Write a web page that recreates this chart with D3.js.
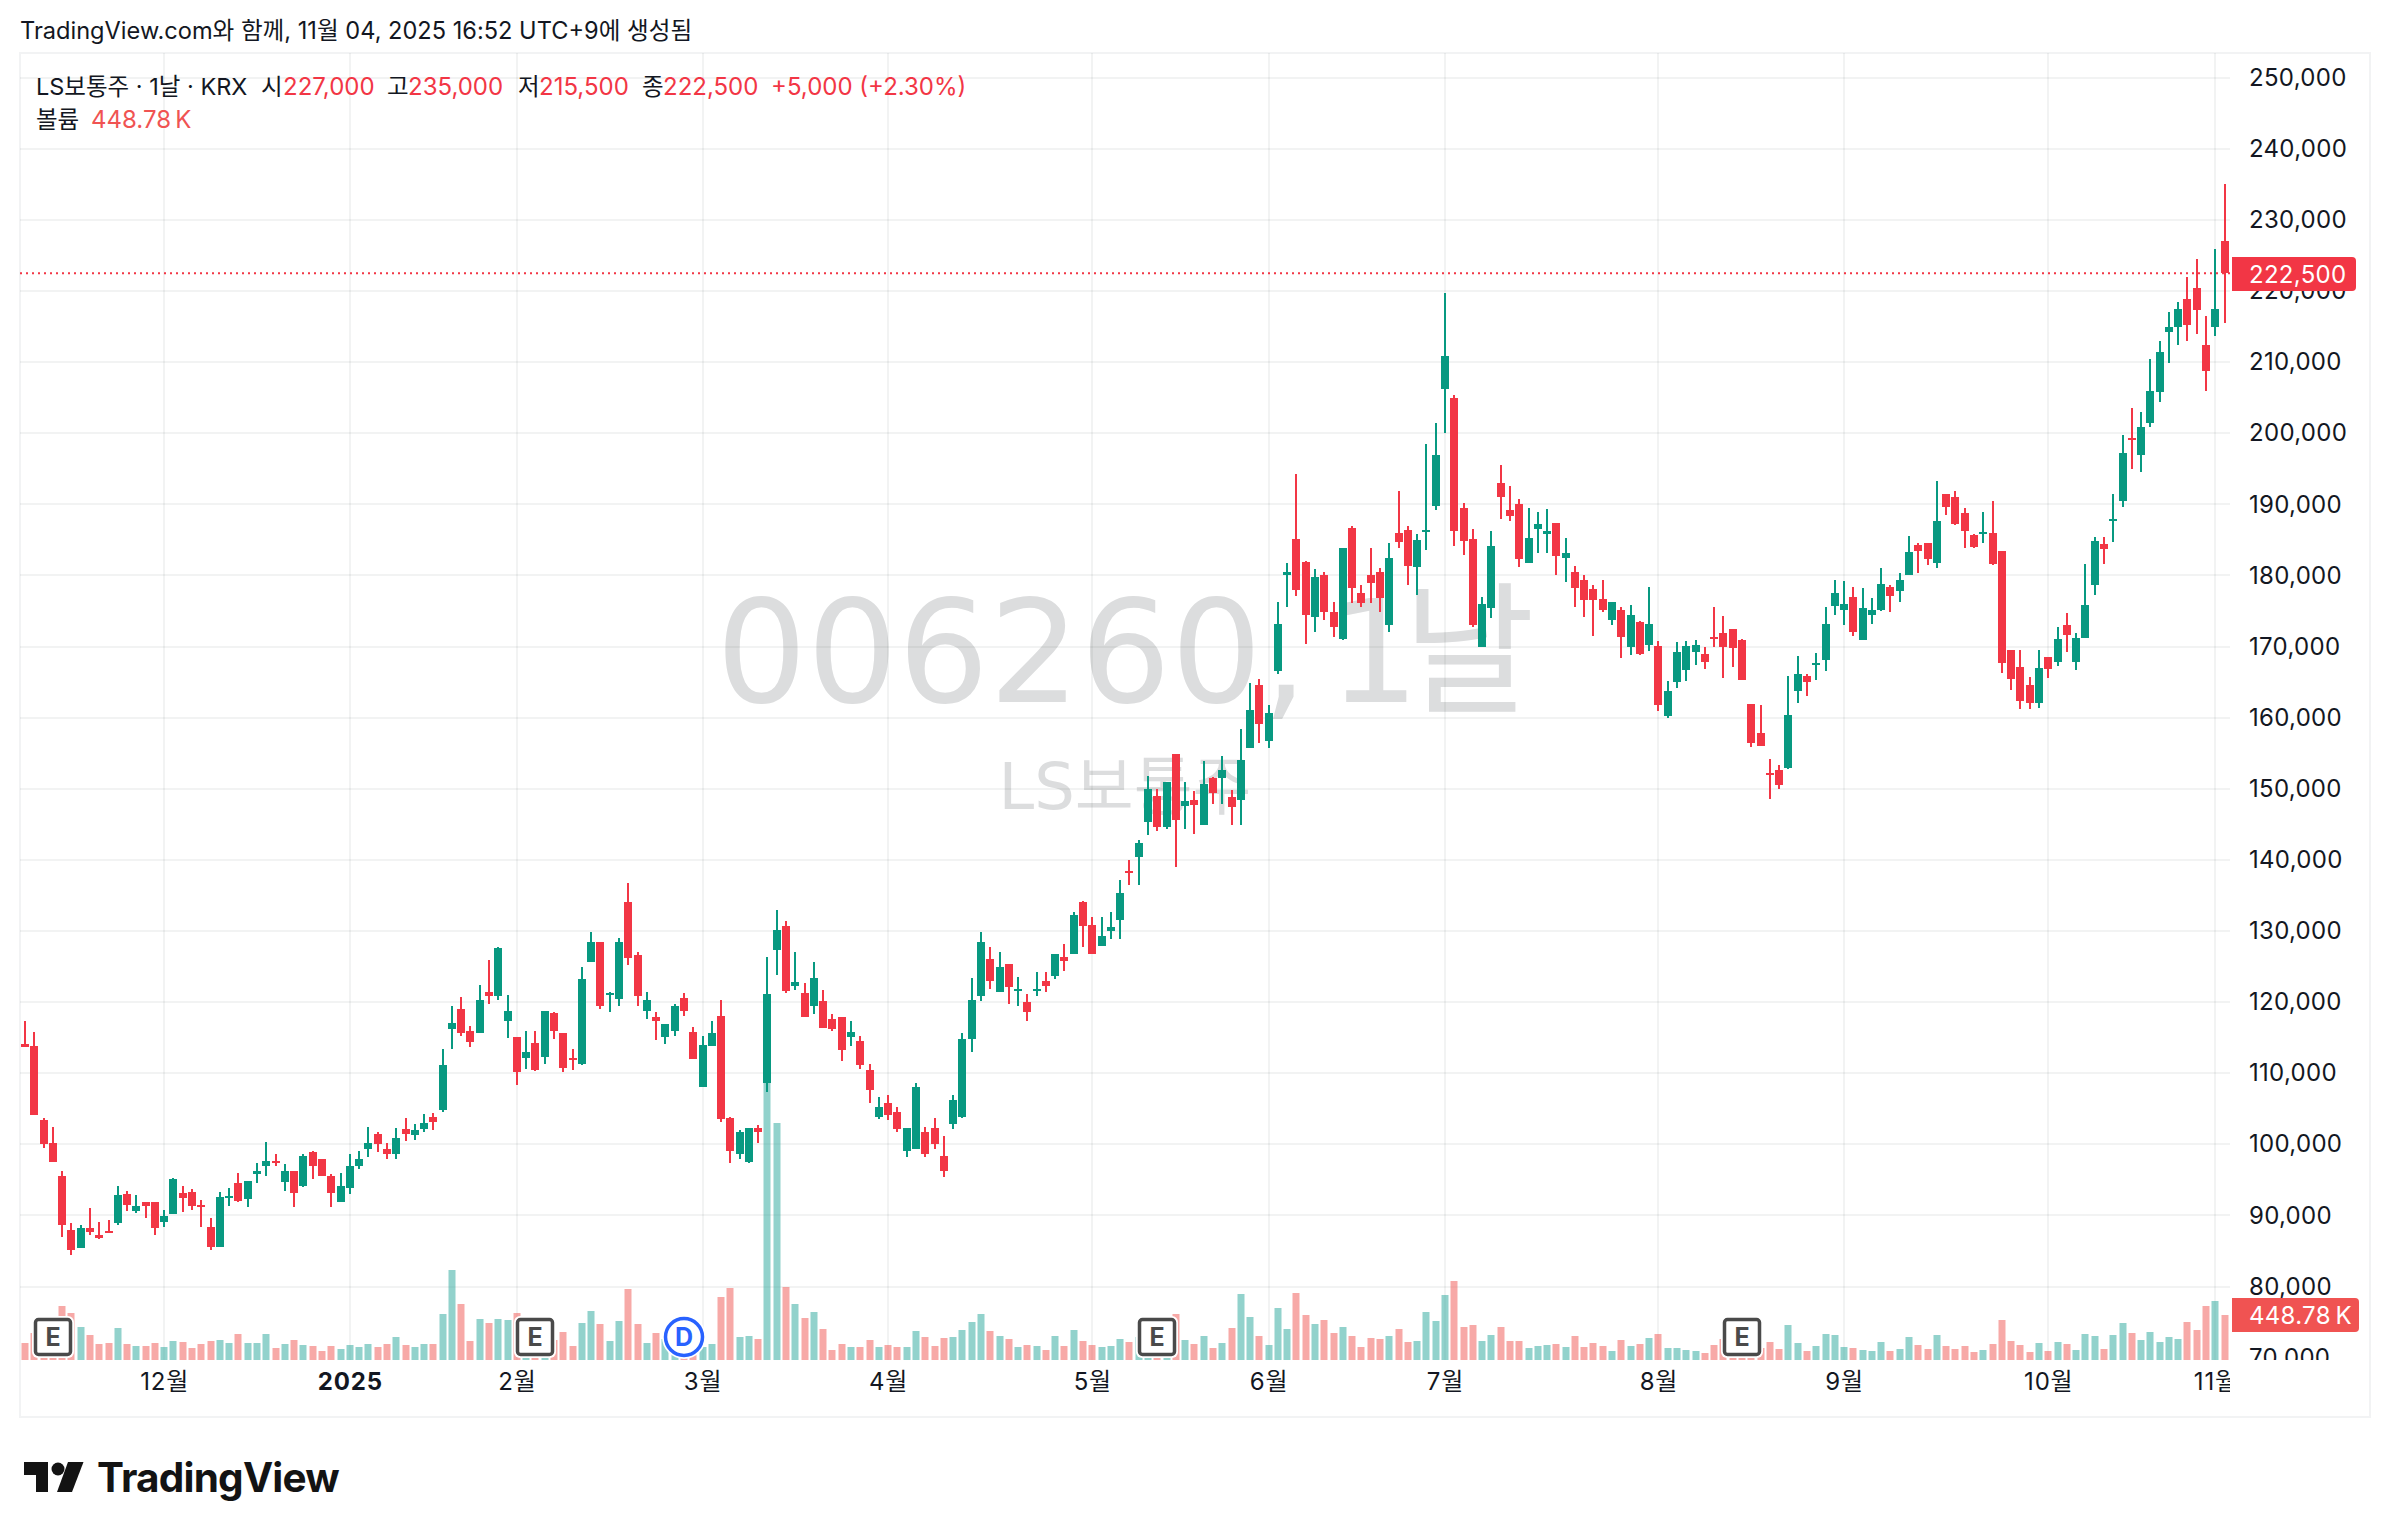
<!DOCTYPE html>
<html lang="ko">
<head>
<meta charset="utf-8">
<title>LS보통주 일봉</title>
<script src="https://cdn.jsdelivr.net/npm/d3@7"></script>
<style>
  html, body { margin: 0; padding: 0; background: #fff; }
  svg { display: block; font-family: Inter, "Noto Sans CJK KR", sans-serif; }
</style>
</head>
<body>
<svg id="chart" width="2390" height="1538"></svg>
<script>
// Daily OHLC (KRW) and volume (thousand shares) for LS, Nov 2024 - Nov 2025.
const opens = [114100,113800,103400,100200,95600,88000,85400,88200,87300,87800,
88900,93000,90600,91900,91900,89100,90200,93100,93300,91400,
88300,85500,92500,94500,92300,95800,96900,97700,94700,96300,
94100,98900,97900,95500,91900,93800,96900,99300,101400,99300,
98600,102100,101300,102100,103800,104800,116200,119000,116000,115600,
121400,120800,117300,115100,112100,114200,112300,118400,115600,112100,
111300,125600,128500,121000,120400,134100,126600,118700,117900,115100,
115900,120600,115800,108000,113800,118000,103700,98700,97500,102300,
108600,127300,130700,122200,121300,119400,120100,117600,117900,115100,
114500,110400,103800,105800,104600,99100,99300,101700,102300,98300,
102800,103800,114800,120900,126100,121400,125400,121500,120000,121600,
123000,123700,126400,126800,134100,130900,127900,130000,131600,138500,
140400,145300,149000,144600,154900,147600,148400,144900,151500,151500,
148800,148400,155800,164600,156700,166500,180000,185200,181900,174100,
180100,174900,171100,186700,177600,180000,180500,173100,186000,186400,
181200,186200,189800,206300,205000,189500,185200,169900,175400,193000,
189200,190100,181800,186600,185900,187400,182400,180500,179300,178100,
176700,173800,175200,169900,173500,170200,170100,160200,165000,166700,
169200,169000,171400,171900,172500,170900,161900,157800,152200,152600,
152900,163800,165900,167400,168100,175700,175200,177000,170900,174500,
175200,178400,177800,180000,184300,184600,181800,191500,191100,188800,
185700,185900,186000,183400,169500,167100,164600,162000,168500,167900,
173000,167900,171200,178600,184500,187600,190500,199300,197000,201400,
205800,214300,214900,218900,220500,212400,214900,227000];

const highs = [117400,115800,103700,102400,96300,88900,88700,91000,89100,89400,
94200,93500,92800,91900,91900,90700,95200,94200,93700,92100,
89700,93300,93800,95900,94900,97300,100300,98600,97200,96300,
98700,99000,98000,95800,95900,98700,99000,102500,101800,100200,
102300,103700,102800,104200,104400,113400,119400,120700,116700,122400,
125900,127800,121000,115100,115900,115900,118700,118600,115600,113400,
124900,129800,128500,121400,129000,136700,127100,121400,118600,116900,
119700,121300,116500,115200,117400,120300,103800,102000,102300,102700,
126400,132900,131400,127100,122700,125700,121700,118300,117900,117400,
115300,111300,106600,106900,105300,102300,108600,102500,103700,101100,
107000,115600,123400,129900,127800,127100,125400,123600,121200,124200,
124200,126800,128200,132700,134200,132000,132000,132700,137200,140000,
142800,151800,150000,150900,154900,150900,149700,153900,151600,154600,
149800,158400,164900,165400,161800,176300,181800,194300,182100,180900,
180500,176300,183800,186900,178700,183900,181100,184600,191900,186900,
185900,198500,201500,219700,205400,190200,186600,177000,186200,195600,
192600,190800,189500,189000,189400,187400,185300,181400,180100,178600,
179300,176300,175600,175900,173600,178400,170800,165200,170700,170800,
170900,170000,175600,174300,172500,171100,161900,161800,154200,153300,
165900,168700,166100,169100,175600,179400,179200,178400,178300,176900,
181100,178700,180400,185600,184600,184600,193300,191500,191900,189500,
185900,189000,190500,183400,169500,169500,165700,169500,168500,172700,
174700,171900,181600,185400,185400,191400,199800,203500,203000,210500,
213000,217000,218500,222000,224500,216500,225900,235000];

const lows = [113700,104100,99500,97500,87000,84500,85400,87200,86700,87600,
88700,90600,90300,89700,87300,88300,90200,90500,90700,88300,
85200,85500,91300,91900,91200,94500,95500,96900,93500,91200,
94000,95100,95600,91200,91900,93000,96500,98200,98900,98000,
98000,100400,100600,101700,102000,104600,113400,115300,113700,115600,
119800,120300,114900,108400,110600,110300,111300,114800,110200,110400,
111100,125600,119000,118600,119500,125200,119500,117600,114600,114100,
115300,118100,112000,108000,113800,103200,97300,98000,97300,100200,
107400,123800,121300,121700,117900,118300,116300,115900,111700,113800,
110600,105800,103500,103400,101800,98200,99300,98200,99400,95400,
102100,103700,113000,120200,121900,121400,119800,119500,117400,120900,
121400,123300,124400,126800,127800,126800,127900,128900,128900,136400,
136400,143500,144100,144400,139000,144400,143700,144900,147900,147900,
144900,144900,155800,156500,155800,166100,175600,177100,170400,172100,
173800,171400,170900,176100,175500,176200,174900,172100,183800,178600,
177300,183600,189200,200000,184100,182900,172700,169900,174000,188000,
187700,181200,181700,183200,183100,180100,179100,175600,174200,171500,
174900,173100,168400,168800,168800,169400,160900,160000,164200,165200,
167400,166900,170000,165600,167100,165300,155900,156000,148500,150000,
152800,162100,163100,165300,166600,174500,173000,171500,170900,173200,
175000,174900,176300,180000,180400,181500,181100,188500,187100,183900,
183900,184600,181500,166300,163900,161200,161200,161300,165600,167300,
169200,166700,171200,177300,181600,184700,189700,195000,194600,200900,
204400,209900,212400,213000,214000,206000,213700,215500];

const closes = [113700,104100,100000,97500,88600,85100,88200,87600,86800,87600,
92800,91400,91300,91300,88200,89900,95100,92400,91300,91300,
85500,92600,92700,92000,94900,96300,97700,97400,96300,93100,
98400,97000,95600,93100,94200,97000,98000,100200,100000,98600,
100900,101400,102000,103000,103100,111100,117000,115600,114400,120300,
120800,127600,118700,110100,113000,110400,118700,116000,110700,111900,
123200,128500,119400,121300,128400,126200,120800,120300,117300,116900,
119400,118700,112000,113900,115600,103500,99100,101800,102300,101700,
121100,130100,121500,122800,117900,123400,116300,116200,113200,115800,
111100,107700,105200,104100,102100,102300,108000,98700,100000,96300,
106300,114800,120300,128500,122900,125000,122100,121800,118600,121900,
122200,126700,125800,132300,130700,126800,129300,130600,135400,138200,
142400,150000,144600,150900,145600,148300,147700,150700,149400,152600,
147400,154000,161100,159100,160700,173200,180500,177900,174400,179800,
174900,172700,183800,178300,176100,179000,176900,182400,184700,181400,
185000,186400,197000,210900,186300,184900,173100,176000,184200,191000,
188300,182300,185300,187300,186200,182800,183200,178300,176500,176500,
175200,176300,171300,174500,169000,173200,161800,163800,169200,170100,
170200,167800,171100,170000,169800,165300,156400,156000,151900,150500,
160400,166100,165000,167700,173200,177600,176000,172100,175400,175200,
178800,177100,179400,183300,183500,182300,187700,189700,187300,186300,
184000,186100,181600,167700,165500,162300,162100,167000,166800,171000,
171700,171200,175900,184900,183700,187900,197200,199000,200900,206000,
211400,215000,217500,215300,217400,208800,217500,222500];

const volumes = [177,275,196,246,540,471,334,255,167,177,
324,167,147,147,177,137,196,187,128,167,
196,206,177,265,177,177,265,128,167,206,
157,147,98,147,118,157,137,167,137,167,
236,157,137,167,167,462,894,560,196,412,
373,412,403,471,147,157,118,206,285,147,
373,491,363,196,393,707,363,177,275,216,
118,59,69,137,167,628,717,236,246,216,
2799,2337,727,560,422,481,314,108,167,137,
137,206,137,157,137,137,295,236,147,226,
236,304,383,462,295,246,216,137,157,147,
108,246,147,304,196,157,137,147,216,187,
236,118,98,98,462,206,167,246,128,177,
324,658,432,246,157,520,314,668,452,363,
403,275,334,246,137,226,216,246,314,187,
196,481,393,648,786,334,354,196,255,334,
196,196,128,147,157,167,137,246,137,177,
147,98,206,147,167,226,265,128,128,108,
98,79,157,216,137,128,137,128,187,118,
354,177,98,147,265,255,137,128,108,98,
187,98,118,236,157,118,255,147,118,147,
88,108,167,403,196,157,88,177,98,187,
167,108,265,246,118,255,373,275,206,285,
187,236,216,383,304,540,589,448.78];

// Time axis: candle index of each labelled session.
const monthTickIndex = [15,35,53,73,93,115,134,153,176,196,218,236];
const monthTickLabels = ["12월","2025","2월","3월","4월","5월","6월","7월","8월","9월","10월","11월"];

const priceTicks = [70000,80000,90000,100000,110000,120000,130000,140000,150000,160000,170000,
  180000,190000,200000,210000,220000,230000,240000,250000];

// Event markers on the volume pane: earnings and dividend sessions.
const earningsIndex = [3,55,122,185];
const dividendIndex = [71];

const lastPrice = 222500;
const lastVolumeLabel = "448.78\u2009K";

const UP = "#089981", DOWN = "#f23645";
const VOL_UP = "rgba(38,166,154,.5)", VOL_DOWN = "rgba(239,83,80,.5)";
const GRID = "rgba(42,46,57,.06)";

const pane = { left: 20, right: 2230, top: 53, bottom: 1360 };
const frame = { left: 20, right: 2370, top: 53, bottom: 1417 };

const svg = d3.select("#chart");
const x = d3.scaleLinear().domain([0, opens.length - 1]).range([25, 2224.6]);
const y = d3.scaleLinear().domain([70000, 250000]).range([1357.6, 77.8]);
const vy = d3.scaleLinear().domain([0, 2799]).range([1360.7, 1075.7]);
const px = i => Math.round(x(i));

svg.append("defs").append("clipPath").attr("id", "pane-clip")
  .append("rect").attr("x", pane.left).attr("y", pane.top)
  .attr("width", pane.right - pane.left).attr("height", pane.bottom - pane.top);
svg.select("defs").append("clipPath").attr("id", "time-clip")
  .append("rect").attr("x", pane.left).attr("y", pane.bottom)
  .attr("width", pane.right - pane.left).attr("height", frame.bottom - pane.bottom);
svg.select("defs").append("clipPath").attr("id", "price-clip")
  .append("rect").attr("x", pane.right).attr("y", pane.top)
  .attr("width", frame.right - pane.right).attr("height", pane.bottom - pane.top);

// Symbol watermark sits beneath the grid; per-glyph offsets tighten the spacing around the interval.
const mark = svg.append("g").attr("fill", "#dcddde")
  .style("font-family", '"DejaVu Sans", "Noto Sans CJK KR", sans-serif');
mark.append("text").attr("x", 716).attr("y", 702).attr("font-size", 143)
  .attr("dx", "0 0 0 0 0 0 0 21 -16").text("006260,1날");
mark.append("text").attr("x", 1125).attr("y", 809).attr("font-size", 64).attr("text-anchor", "middle").text("LS보통주");

// Frame
svg.append("rect").attr("x", frame.left).attr("y", frame.top)
  .attr("width", frame.right - frame.left).attr("height", frame.bottom - frame.top)
  .attr("fill", "none").attr("stroke", "#f2f3f4").attr("stroke-width", 2);

// Grid
const grid = svg.append("g").attr("stroke", GRID).attr("stroke-width", 2);
grid.selectAll("line.h").data(priceTicks.filter(d => d > 70000)).join("line").attr("class", "h")
  .attr("x1", pane.left).attr("x2", pane.right)
  .attr("y1", d => Math.round(y(d))).attr("y2", d => Math.round(y(d)));
grid.selectAll("line.v").data(monthTickIndex).join("line").attr("class", "v")
  .attr("x1", d => px(d)).attr("x2", d => px(d))
  .attr("y1", pane.top).attr("y2", pane.bottom);

const plot = svg.append("g").attr("clip-path", "url(#pane-clip)");
const isUp = i => closes[i] >= opens[i];
const idx = d3.range(opens.length);

// Volume bars
plot.append("g").selectAll("rect").data(idx).join("rect")
  .attr("x", i => px(i) - 3.5).attr("width", 7)
  .attr("y", i => Math.round(vy(volumes[i])))
  .attr("height", i => Math.round(vy(0)) - Math.round(vy(volumes[i])))
  .attr("fill", i => isUp(i) ? VOL_UP : VOL_DOWN);

// Candles
const candles = plot.append("g");
candles.selectAll("rect.wick").data(idx).join("rect").attr("class", "wick")
  .attr("x", i => px(i) - 1).attr("width", 2)
  .attr("y", i => Math.round(y(highs[i])))
  .attr("height", i => Math.max(2, Math.round(y(lows[i])) - Math.round(y(highs[i]))))
  .attr("fill", i => isUp(i) ? UP : DOWN);
candles.selectAll("rect.body").data(idx).join("rect").attr("class", "body")
  .attr("x", i => px(i) - 4).attr("width", 8)
  .attr("y", i => Math.round(y(Math.max(opens[i], closes[i]))))
  .attr("height", i => Math.max(2, Math.round(y(Math.min(opens[i], closes[i]))) - Math.round(y(Math.max(opens[i], closes[i])))))
  .attr("fill", i => isUp(i) ? UP : DOWN);

// Last price line
svg.append("line").attr("x1", pane.left).attr("x2", pane.right)
  .attr("y1", y(lastPrice)).attr("y2", y(lastPrice))
  .attr("stroke", DOWN).attr("stroke-width", 2).attr("stroke-dasharray", "2 4");

// Earnings badges
const badges = svg.append("g");
const eb = badges.selectAll("g.e").data(earningsIndex).join("g").attr("class", "e")
  .attr("transform", d => `translate(${px(d)},1337)`);
eb.append("rect").attr("x", -21).attr("y", -21).attr("width", 42).attr("height", 42).attr("rx", 6).attr("fill", "#fff");
eb.append("rect").attr("x", -17.5).attr("y", -17.5).attr("width", 35).attr("height", 35).attr("rx", 3)
  .attr("fill", "#fff").attr("stroke", "#4a4a4a").attr("stroke-width", 3.5);
eb.append("text").attr("text-anchor", "middle").attr("y", 9).attr("font-size", 25).attr("font-weight", 700)
  .attr("fill", "#4a4a4a").text("E");

// Dividend badge
const db = badges.selectAll("g.d").data(dividendIndex).join("g").attr("class", "d")
  .attr("transform", d => `translate(${px(d)},1337)`);
db.append("circle").attr("r", 22).attr("fill", "#fff");
db.append("circle").attr("r", 18.5).attr("fill", "#fff").attr("stroke", "#2962ff").attr("stroke-width", 3.5);
db.append("text").attr("text-anchor", "middle").attr("y", 9).attr("font-size", 25).attr("font-weight", 700)
  .attr("fill", "#2962ff").text("D");

// Price axis
const priceAxis = svg.append("g").attr("clip-path", "url(#price-clip)").append("g")
  .attr("transform", `translate(${pane.right + 19},0)`)
  .call(d3.axisRight(y).tickValues(priceTicks).tickFormat(d3.format(",")).tickSize(0).tickPadding(0));
priceAxis.select(".domain").remove();
priceAxis.selectAll("text").attr("font-size", 24).attr("fill", "#131722")
  .style("font-family", 'Inter, "Noto Sans CJK KR", sans-serif').attr("letter-spacing", 0.3);

// Time axis
const timeAxis = svg.append("g").attr("clip-path", "url(#time-clip)").append("g")
  .attr("transform", `translate(0,${pane.bottom})`)
  .call(d3.axisBottom(x).tickValues(monthTickIndex)
    .tickFormat((d, i) => monthTickLabels[i]).tickSize(0).tickPadding(0));
timeAxis.select(".domain").remove();
timeAxis.selectAll("text").attr("font-size", 24).attr("fill", "#131722").attr("y", 22).attr("dy", ".32em")
  .style("font-family", 'Inter, "Noto Sans CJK KR", sans-serif').attr("letter-spacing", 0.8)
  .attr("font-weight", (d, i) => monthTickLabels[i] === "2025" ? 700 : 400);

// Value tags on the price axis
function tag(top, h, right, fill, label) {
  svg.append("path").attr("fill", fill).attr("d",
    `M2232,${top}H${right - 4}a4,4 0 0 1 4,4V${top + h - 4}a4,4 0 0 1 -4,4H2232Z`);
  svg.append("text").attr("x", 2249).attr("y", top + h / 2 + 8.5).attr("font-size", 24)
    .attr("letter-spacing", 0.3).attr("fill", "#fff").text(label);
}
tag(257, 34, 2356, DOWN, d3.format(",")(lastPrice));
tag(1298, 34, 2359, "#f05352", lastVolumeLabel);

// Legend and caption text
const caption = svg.append("g").attr("fill", "#131722");
caption.append("text").attr("x", 20).attr("y", 39).attr("font-size", 23.6)
  .text("TradingView.com와 함께, 11월 04, 2025 16:52 UTC+9에 생성됨");

const legendName = [["LS보통주 · 1날 · KRX", 36], ["시", 261], ["고", 387], ["저", 518], ["종", 642]];
const legendValues = [["227,000", 283], ["235,000", 408], ["215,500", 539], ["222,500", 663], ["+5,000 (+2.30%)", 771]];
caption.selectAll("text.n").data(legendName).join("text").attr("class", "n")
  .attr("x", d => d[1]).attr("y", 95).attr("font-size", 23.5).text(d => d[0]);
caption.selectAll("text.v").data(legendValues).join("text").attr("class", "v")
  .attr("x", d => d[1]).attr("y", 95).attr("font-size", 24).attr("fill", DOWN).text(d => d[0]);
caption.append("text").attr("x", 36).attr("y", 128).attr("font-size", 23.5).text("볼륨");
caption.append("text").attr("x", 91).attr("y", 128).attr("font-size", 24).attr("fill", "#f05352").text(lastVolumeLabel);

// Brand mark
const logo = svg.append("g").attr("fill", "#131313");
logo.append("path").attr("d", "M24,1462H48V1492H36V1475H24Z");
logo.append("circle").attr("cx", 58).attr("cy", 1469).attr("r", 6.5);
logo.append("path").attr("d", "M68,1462H83.5L72,1492H57Z");
logo.append("text").attr("x", 97).attr("y", 1492).attr("font-size", 40.5).attr("font-weight", 700)
  .attr("letter-spacing", -0.8).text("TradingView");
</script>
</body>
</html>
